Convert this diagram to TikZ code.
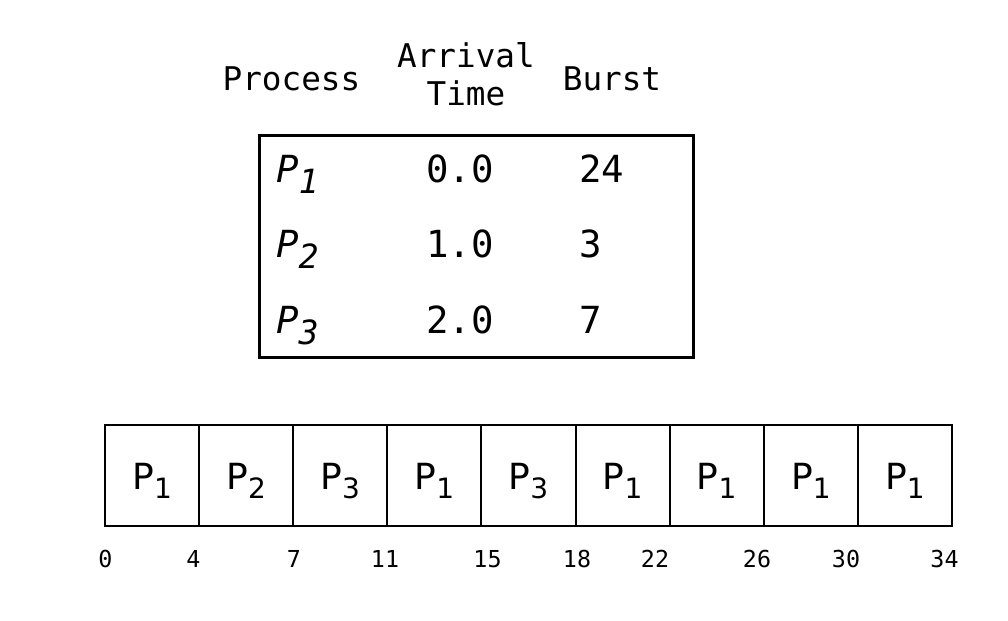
\documentclass[tikz,border=0pt]{standalone}
\usepackage{fontspec}
\setmonofont{DejaVu Sans Mono}
\newfontfamily\gsans{DejaVu Sans}
\newfontfamily\gmono{DejaVu Sans Mono}
\newcommand{\ganttP}[1]{{\gsans\fontsize{27}{27}\selectfont P\raisebox{-6.75pt}{\fontsize{21}{21}\selectfont #1}}}
\newcommand{\tabP}[1]{{\gmono\itshape\fontsize{28}{28}\selectfont P\raisebox{-8.5pt}{\fontsize{25}{25}\selectfont #1}}}
\begin{document}
\begin{tikzpicture}[x=0.75pt,y=-0.75pt,
  hdr/.style={font=\gmono\fontsize{24.5}{28}\selectfont, inner sep=0pt, anchor=base},
  cellt/.style={font=\gmono\fontsize{28}{28}\selectfont, inner sep=0pt},
  gcell/.style={draw, line width=1.5pt, minimum width=94.11*0.75pt, minimum height=101*0.75pt, inner sep=0pt},
  glab/.style={inner sep=0pt, anchor=base},
  tlab/.style={font=\gmono\fontsize{17.5}{17.5}\selectfont, inner sep=0pt, anchor=base}]
\useasboundingbox (0,0) rectangle (1008,621);
% header
\node[hdr] (hproc) at (291.5,90) {Process};
\node[hdr] (harr) at (466,67) {Arrival};
\node[hdr] (htime) at (466,105) {Time};
\node[hdr] (hburst) at (612,90) {Burst};
% table frame
\draw[line width=2.25pt] (259,135) rectangle (693,357);
% rows
\node[cellt, anchor=base west] (p1) at (276,182) {\tabP{1}};
\node[cellt, anchor=base west] (p2) at (276,257.5) {\tabP{2}};
\node[cellt, anchor=base west] (p3) at (276,333) {\tabP{3}};
\node[cellt, anchor=base] (a1) at (460,182) {0.0};
\node[cellt, anchor=base] (a2) at (460,257.5) {1.0};
\node[cellt, anchor=base] (a3) at (460,333) {2.0};
\node[cellt, anchor=base west] (b1) at (579,182) {24};
\node[cellt, anchor=base west] (b2) at (579,257.5) {3};
\node[cellt, anchor=base west] (b3) at (579,333) {7};
% gantt cells
\foreach \i/\p in {1/1,2/2,3/3,4/1,5/3,6/1,7/1,8/1,9/1}{
  \node[gcell] (g\i) at ({105+94.11*(\i-0.5)},475.5) {};
  \node[glab] (gl\i) at ({105+94.11*(\i-0.5)},489) {\ganttP{\p}};
}
% time labels
\node[tlab] (t0) at (105.5,567) {0};
\node[tlab] (t4) at (193.5,567) {4};
\node[tlab] (t7) at (294,567) {7};
\node[tlab] (t11) at (385,567) {11};
\node[tlab] (t15) at (487.5,567) {15};
\node[tlab] (t18) at (577,567) {18};
\node[tlab] (t22) at (655,567) {22};
\node[tlab] (t26) at (757,567) {26};
\node[tlab] (t30) at (846,567) {30};
\node[tlab] (t34) at (944.5,567) {34};
\end{tikzpicture}
\end{document}
